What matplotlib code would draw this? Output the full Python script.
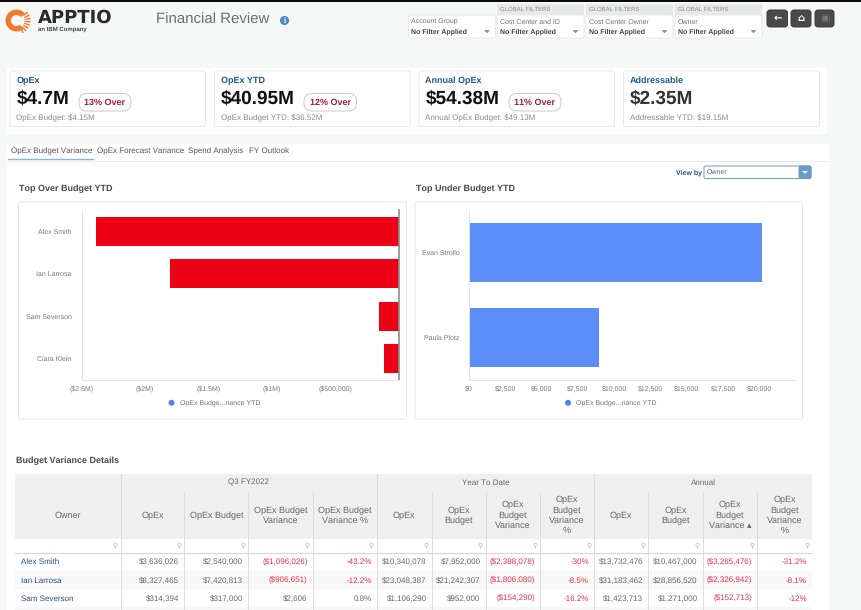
import matplotlib
matplotlib.use("Agg")
import matplotlib.pyplot as plt
from matplotlib.patches import Rectangle, FancyBboxPatch, Wedge, Circle, Polygon

plt.rcParams['font.family'] = ['Liberation Sans', 'DejaVu Sans']
plt.rcParams['text.hinting'] = 'no_hinting'
plt.rcParams['text.hinting_factor'] = 1

# ---- data ----
over_names = ["Alex Smith", "Ian Larrosa", "Sam Severson", "Ciara Klein"]
over_values = [-2388078, -1806080, -154290, -118000]
over_ticks = [-2500000, -2000000, -1500000, -1000000, -500000]
over_ticklabels = ["($2.5M)", "($2M)", "($1.5M)", "($1M)", "($500,000)"]

under_names = ["Evan Strollo", "Paula Plotz"]
under_values = [20150, 8940]
under_ticks = [0, 2500, 5000, 7500, 10000, 12500, 15000, 17500, 20000]
under_ticklabels = ["$0", "$2,500", "$5,000", "$7,500", "$10,000", "$12,500", "$15,000", "$17,500", "$20,000"]
legend_label = "OpEx Budge...riance YTD"

kpi_titles = ["OpEx", "OpEx YTD", "Annual OpEx", "Addressable"]
kpi_values = ["$4.7M", "$40.95M", "$54.38M", "$2.35M"]
kpi_badges = ["13% Over", "12% Over", "11% Over", None]
kpi_subs = ["OpEx Budget: $4.15M", "OpEx Budget YTD: $36.52M", "Annual OpEx Budget: $49.13M", "Addressable YTD: $19.15M"]

filter_labels = ["Account Group", "Cost Center and ID", "Cost Center Owner", "Owner"]
tabs = ["OpEx Budget Variance", "OpEx Forecast Variance", "Spend Analysis", "FY Outlook"]

table_groups = ["Q3 FY2022", "Year To Date", "Annual"]
table_headers = ["Owner", "OpEx", "OpEx Budget", "OpEx Budget\nVariance", "OpEx Budget\nVariance %",
                 "OpEx", "OpEx\nBudget", "OpEx\nBudget\nVariance", "OpEx\nBudget\nVariance\n%",
                 "OpEx", "OpEx\nBudget", "OpEx\nBudget\nVariance \u25b4", "OpEx\nBudget\nVariance\n%"]
row_alex = ["Alex Smith", "$3,636,026", "$2,540,000", "($1,096,026)", "-43.2%", "$10,340,078", "$7,952,000",
            "($2,388,078)", "-30%", "$13,732,476", "$10,467,000", "($3,265,476)", "-31.2%"]
row_ian = ["Ian Larrosa", "$8,327,465", "$7,420,813", "($906,651)", "-12.2%", "$23,048,387", "$21,242,307",
           "($1,806,080)", "-8.5%", "$31,183,462", "$28,856,520", "($2,326,942)", "-8.1%"]
row_sam = ["Sam Severson", "$314,394", "$317,000", "$2,606", "0.8%", "$1,106,290", "$952,000",
           "($154,290)", "-16.2%", "$1,423,713", "$1,271,000", "($152,713)", "-12%"]
table_rows = [row_alex, row_ian, row_sam]

# ---- layout helpers ----
W, H = 862, 610
fig = plt.figure(figsize=(W / 100, H / 100), dpi=100, facecolor="#f6f7f7")
ui = fig.add_axes([0, 0, 1, 1], zorder=0)
ui.set_xlim(0, W); ui.set_ylim(H, 0); ui.axis("off")

GREY = "#777777"; DARK = "#555555"; BLUE = "#1f5a8a"; RED = "#e8304a"


def rect(x0, y0, x1, y1, fc="white", ec="none", lw=0.6, z=1):
    ui.add_patch(Rectangle((x0, y0), x1 - x0, y1 - y0, fc=fc, ec=ec, lw=lw, zorder=z))


def rrect(x0, y0, x1, y1, fc="white", ec="#e6e8ea", lw=0.7, r=2, z=2):
    ui.add_patch(FancyBboxPatch((x0 + r, y0 + r), x1 - x0 - 2 * r, y1 - y0 - 2 * r,
                                boxstyle=f"round,pad={r},rounding_size={r}", fc=fc, ec=ec, lw=lw, zorder=z))


def text(x, y, s, size=6, color=GREY, ha="left", weight="normal", z=5, **kw):
    ui.text(x, y + 0.5, s, fontsize=size, color=color, ha=ha, va="center", fontweight=weight, zorder=z, **kw)


def tri(x, y, w=3, h=3, color="#888888"):
    ui.add_patch(Polygon([(x - w, y), (x + w, y), (x, y + h)], fc=color, ec="none", zorder=6))


# top strip
rect(0, 0, W, 2, fc="#0a0a0a", z=3)

# logo: ring with short rays on its outer rim
ui.add_patch(Wedge((16.5, 20.5), 11, 50, 320, width=5.5, fc="#ef7b2d", ec="none", zorder=3))
for a in range(-40, 60, 14):
    ui.add_patch(Wedge((16.5, 20.5), 14, a, a + 7, width=6, fc="#ef7b2d", ec="none", zorder=3))
text(38, 17.5, "APPTIO", size=12.8, color="#2b2b2b", weight="bold", family="DejaVu Sans")
text(38, 28.5, "an IBM Company", size=4.6, color="#444444", weight="bold")
text(156, 19.5, "Financial Review", size=10.9, color="#6a7075")
ui.add_patch(Circle((284.5, 20.5), 4.6, fc="#4c8fc4", ec="none", zorder=5))
text(284.5, 20.2, "i", size=5.5, color="white", ha="center", weight="bold", z=6)

# filters
filter_boxes = [(408.5, 495.5), (497, 584), (586, 673), (675, 762)]
for i, ((x0, x1), label) in enumerate(zip(filter_boxes, filter_labels)):
    top = 15
    if i > 0:
        rect(x0, 4, x1, 16, fc="#e7e8e8")
        text(x0 + 3, 8.7, "GLOBAL FILTERS", size=4.1, color="#888888")
    rrect(x0, top, x1, 38, ec="#e8e9ea")
    text(x0 + 3, 21.5, label, size=5.0, color="#6f6f6f")
    text(x0 + 3, 31, "No Filter Applied", size=5.0, color="#444444", weight="bold")
    tri(x1 - 8.5, 30.2)

# buttons
for (x0, x1), glyph in zip([(767, 787.5), (791, 811), (815, 834)], ["\u2190", "\u2302", "\u25a3"]):
    rrect(x0, 10, x1, 27, fc="#4a4a4a", ec="#3a3a3a", r=3)
    text((x0 + x1) / 2, 17.5, glyph, size=7, color="white" if glyph != "\u25a3" else "#777777",
         ha="center", weight="bold", family="DejaVu Sans", z=6)

# KPI band
rect(7, 68, 827, 134, fc="white")
kpi_boxes = [(10, 205.5), (214.5, 410), (419, 614.5), (623.5, 819.5)]
badge_x = [(79, 131), (304, 356.5), (509, 561), None]
for box, t, v, b, s, bx in zip(kpi_boxes, kpi_titles, kpi_values, kpi_badges, kpi_subs, badge_x):
    x0, x1 = box
    rrect(x0, 71, x1, 126.5)
    text(x0 + 6.5, 80.5, t, size=6.4, color=BLUE, weight="bold")
    text(x0 + 6.5, 98.5, v, size=13.8, color="#111111" if b else "#333333", weight="bold")
    text(x0 + 6.5, 117.5, s, size=5.55, color="#8a8a8a")
    if b:
        rrect(bx[0], 93.5, bx[1], 111, ec="#c9c9c9", r=8, z=4)
        text((bx[0] + bx[1]) / 2, 101.8, b, size=6.8, color="#a81e2d", ha="center", weight="bold")

# main panel
rect(7, 144, 829, H, fc="white")
ui.plot([7, 829], [160.5, 160.5], color="#eceded", lw=0.7, zorder=2)
ui.plot([8, 93], [158.5, 158.5], color="#8fb4dc", lw=1, zorder=3)
for x, t in zip([11, 97, 188, 249], tabs):
    text(x, 150.5, t, size=5.5, color="#555555")

text(702, 172, "View by", size=5.3, color=BLUE, ha="right", weight="bold")
rrect(704, 166, 811, 178.5, ec="#6d9bd0", r=1.5)
rrect(799, 166, 811, 178.5, fc="#6d9bd0", ec="#6d9bd0", r=1.5, z=3)
text(706.5, 172, "Owner", size=5.4, color="#666666")
tri(805, 171, w=2.8, h=2.8, color="white")

text(19, 188, "Top Over Budget YTD", size=6.65, color="#4a4a4a", weight="bold")
text(416, 188, "Top Under Budget YTD", size=6.65, color="#4a4a4a", weight="bold")
rrect(18.5, 202, 406.5, 419)
rrect(415, 202, 802.5, 419)


def chart_axes(x0, x1, y0=210, y1=380):
    ax = fig.add_axes([x0 / W, 1 - y1 / H, (x1 - x0) / W, (y1 - y0) / H], zorder=3)
    ax.patch.set_alpha(0)
    for sp in ax.spines.values():
        sp.set_visible(False)
    ax.spines["left"].set_visible(True); ax.spines["bottom"].set_visible(True)
    ax.spines["left"].set_color("#dfe5e8"); ax.spines["bottom"].set_color("#dfe5e8")
    ax.spines["left"].set_linewidth(0.7); ax.spines["bottom"].set_linewidth(0.7)
    ax.tick_params(length=0, labelsize=5.0, labelcolor="#777777")
    ax.tick_params(axis="y", pad=7.2)
    ax.tick_params(axis="x", pad=4.0)
    return ax


ax1 = chart_axes(81.5, 399)
ax1.barh(range(len(over_names)), over_values, height=0.68, color="#ee0014")
ax1.set_xlim(-2500000, 0); ax1.set_ylim(len(over_names) - 0.5, -0.5)
ax1.set_yticks(range(len(over_names)), over_names)
ax1.set_xticks(over_ticks, over_ticklabels)
ax1.spines["right"].set_visible(True); ax1.spines["right"].set_color("#8c8c8c"); ax1.spines["right"].set_linewidth(1.2)

ax2 = chart_axes(469.3, 795.7)
ax2.barh(range(len(under_names)), under_values, height=0.69, color="#5b8ef8")
ax2.set_xlim(0, 22500); ax2.set_ylim(len(under_names) - 0.5, -0.5)
ax2.set_yticks(range(len(under_names)), under_names)
ax2.set_xticks(under_ticks, under_ticklabels)

for dot_x in (171.5, 568):
    ui.add_patch(Circle((dot_x, 402.8), 3, fc="#4f86ec", ec="none", zorder=5))
    text(dot_x + 8.5, 402, legend_label, size=4.9, color="#777777")

# table
text(16.5, 460, "Budget Variance Details", size=6.7, color="#4a4a4a", weight="bold")
edges = [15.5, 120.7, 184.3, 248.3, 312.7, 376.7, 431.7, 485.7, 540, 594, 648, 702.7, 757.3, 812]
HEAD_TOP, GROUP_BOT, HEAD_BOT, FILT_BOT = 474, 492, 538.5, 552.5
row_h = 18.2
rect(edges[0], HEAD_TOP, edges[-1], HEAD_BOT, fc="#efefef")
ui.plot([edges[0], edges[-1]], [FILT_BOT, FILT_BOT], color="#d5d5d5", lw=0.8, zorder=3)
rect(edges[0], FILT_BOT + row_h, edges[-1], FILT_BOT + 2 * row_h, fc="#f7f7f7")
rect(edges[0], FILT_BOT + 3 * row_h, edges[-1], H, fc="#f7f7f7")

group_spans = [(1, 5), (5, 9), (9, 13)]
for g, (a, b) in zip(table_groups, group_spans):
    text((edges[a] + edges[b]) / 2, 482, g, size=6.1, color="#666666", ha="center")

major = {1, 5, 9, 13}
for i, x in enumerate(edges):
    if i in (0, 13):
        continue
    top = HEAD_TOP if i in major else GROUP_BOT
    ui.plot([x, x], [top, H], color="#dddddd", lw=0.7, zorder=3)

for j, h in enumerate(table_headers):
    cx = (edges[j] + edges[j + 1]) / 2
    text(cx, 515, h, size=6.5, color="#666666", ha="center", linespacing=1.3)
    ui.text(edges[j + 1] - 5.5, 546, "\u26b2", fontsize=5, color="#b5b5b5", ha="center", va="center",
            family="DejaVu Sans", zorder=5)

for r, row in enumerate(table_rows):
    y = FILT_BOT + row_h * r + 9.3
    text(21, y, row[0], size=5.6, color="#2c4f86")
    for j, val in enumerate(row[1:], start=1):
        is_neg = val.startswith("(") or val.startswith("-")
        text(edges[j + 1] - 5, y, val, size=5.7, color=RED if is_neg else "#666666", ha="right")

fig.savefig("out.png", dpi=100, facecolor=fig.get_facecolor())
